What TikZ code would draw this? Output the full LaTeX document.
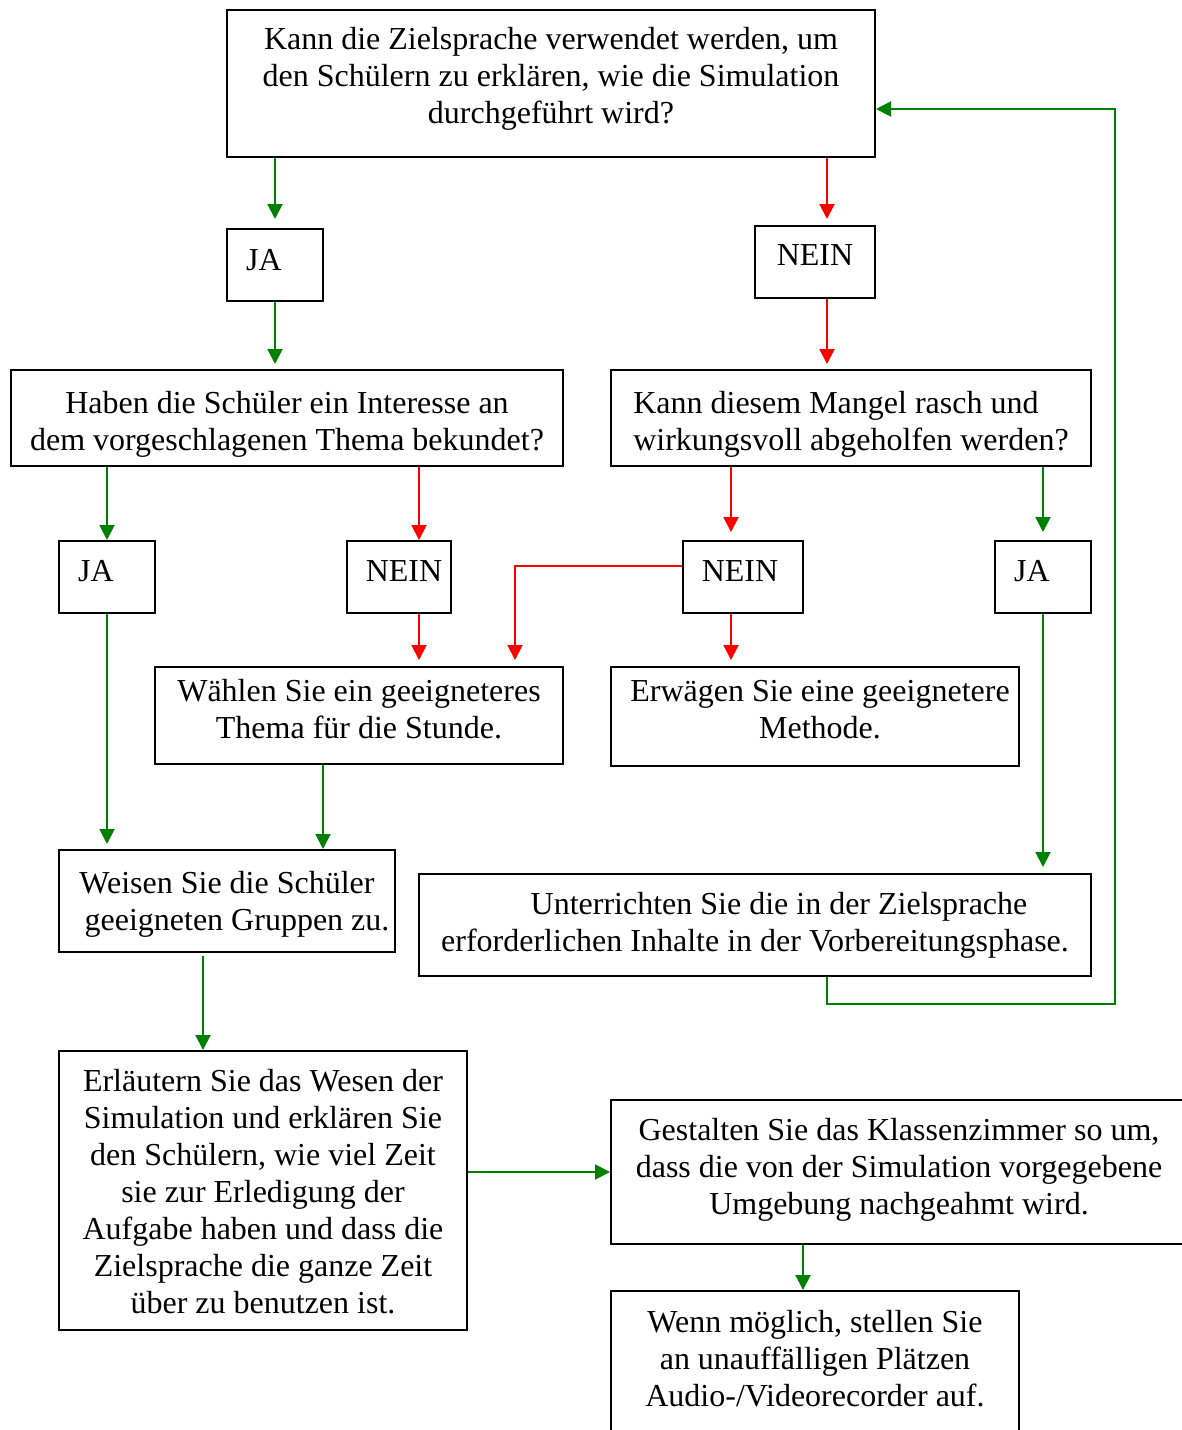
\documentclass[tikz,border=0pt]{standalone}
\usepackage{fontspec}
\setmainfont{Liberation Serif}
\usetikzlibrary{arrows.meta,calc}
\definecolor{cgreen}{RGB}{0,128,0}
\definecolor{cred}{RGB}{255,0,0}
\begin{document}
\begin{tikzpicture}[x=1pt,y=-1pt,
  box/.style={draw=black, line width=2pt, inner sep=0pt},
  tx/.style={inner sep=0pt, align=center, font=\fontsize{32}{37}\selectfont},
  garrow/.style={draw=cgreen, line width=2pt, -{Triangle[width=15pt,length=15pt]}},
  rarrow/.style={draw=cred, line width=2pt, -{Triangle[width=15pt,length=15pt]}}]
\useasboundingbox (0,0) rectangle (1182,1430);
\clip (0,0) rectangle (1182,1430);
% boxes
\node[box, minimum width=648pt, minimum height=147pt,
  label={[tx,yshift=5pt]center:{Kann die Zielsprache verwendet werden, um\\den Schülern zu erklären, wie die Simulation\\durchgeführt wird?}}] (top) at (551,83.5) {};
\node[box, minimum width=96pt, minimum height=72pt,
  label={[tx,yshift=5pt]center:{JA\hspace*{22pt}}}] (ja1) at (275,265) {};
\node[box, minimum width=120pt, minimum height=72pt,
  label={[tx,yshift=7pt]center:{NEIN}}] (nein1) at (815,262) {};
\node[box, minimum width=552pt, minimum height=96pt,
  label={[tx,yshift=-6pt]center:{Haben die Schüler ein Interesse an\\dem vorgeschlagenen Thema bekundet?}}] (haben) at (287,418) {};
\node[box, minimum width=480pt, minimum height=96pt,
  label={[tx,align=left,yshift=-6pt]center:{Kann diesem Mangel rasch und\\wirkungsvoll abgeholfen werden?}}] (kann) at (851,418) {};
\node[box, minimum width=96pt, minimum height=72pt,
  label={[tx,yshift=6pt]center:{JA\hspace*{22pt}}}] (ja2) at (107,577) {};
\node[box, minimum width=104pt, minimum height=72pt,
  label={[tx,yshift=6pt]center:{\hspace*{10pt}NEIN}}] (nein2) at (399,577) {};
\node[box, minimum width=120pt, minimum height=72pt,
  label={[tx,yshift=6pt]center:{NEIN\hspace*{6pt}}}] (nein3) at (743,577) {};
\node[box, minimum width=96pt, minimum height=72pt,
  label={[tx,yshift=6pt]center:{JA\hspace*{22pt}}}] (ja3) at (1043,577) {};
\node[box, minimum width=408pt, minimum height=97pt,
  label={[tx,yshift=6pt]center:{Wählen Sie ein geeigneteres\\Thema für die Stunde.}}] (waehlen) at (359,715.5) {};
\node[box, minimum width=408pt, minimum height=99pt,
  label={[tx,yshift=7pt]center:{\hspace*{10pt}Erwägen Sie eine geeignetere\\\hspace*{10pt}Methode.}}] (erwaegen) at (815,716.5) {};
\node[box, minimum width=336pt, minimum height=102pt,
  label={[tx,yshift=-3pt]center:{Weisen Sie die Schüler\\\hspace*{20pt}geeigneten Gruppen zu.}}] (weisen) at (227,901) {};
\node[box, minimum width=672pt, minimum height=102pt,
  label={[tx]center:{\hspace*{48pt}Unterrichten Sie die in der Zielsprache\\erforderlichen Inhalte in der Vorbereitungsphase.}}] (unter) at (755,925) {};
\node[box, minimum width=408pt, minimum height=279pt,
  label={[tx,yshift=-1pt]center:{Erläutern Sie das Wesen der\\Simulation und erklären Sie\\den Schülern, wie viel Zeit\\sie zur Erledigung der\\Aufgabe haben und dass die\\Zielsprache die ganze Zeit\\über zu benutzen ist.}}] (erl) at (263,1190.5) {};
\node[box, minimum width=576pt, minimum height=144pt,
  label={[tx,yshift=2pt]center:{Gestalten Sie das Klassenzimmer so um,\\dass die von der Simulation vorgegebene\\Umgebung nachgeahmt wird.}}] (gest) at (899,1172) {};
\node[box, minimum width=408pt, minimum height=147pt,
  label={[tx,yshift=6pt]center:{Wenn möglich, stellen Sie\\an unauffälligen Plätzen\\Audio-/Videorecorder auf.}}] (wenn) at (815,1364.5) {};
% connectors
\draw[garrow, shorten >=9pt] (top.south -| ja1.north) -- (ja1.north);
\draw[garrow, shorten >=5pt] (ja1.south) -- (ja1.south |- haben.north);
\draw[rarrow, shorten >=6pt] ([xshift=12pt]top.south -| nein1.north) -- ([xshift=12pt]nein1.north);
\draw[rarrow, shorten >=5pt] ([xshift=12pt]nein1.south) -- ([xshift=12pt]nein1.south |- kann.north);
\draw[garrow] (haben.south -| ja2.north) -- (ja2.north);
\draw[rarrow] ([xshift=20pt]haben.south -| nein2.north) -- ([xshift=20pt]nein2.north);
\draw[rarrow, shorten >=8pt] ([xshift=-12pt]kann.south -| nein3.north) -- ([xshift=-12pt]nein3.north);
\draw[garrow, shorten >=8pt] (kann.south -| ja3.north) -- (ja3.north);
\draw[rarrow, shorten >=6pt] ([xshift=20pt]nein2.south) -- ([xshift=20pt]nein2.south |- waehlen.north);
\draw[rarrow, shorten >=6pt] ([yshift=11pt]nein3.west) -| ([xshift=156pt]waehlen.north);
\draw[rarrow, shorten >=6pt] ([xshift=-12pt]nein3.south) -- ([xshift=-12pt]nein3.south |- erwaegen.north);
\draw[garrow, shorten >=5pt] (ja2.south) -- (ja2.south |- weisen.north);
\draw[garrow] ([xshift=-36pt]waehlen.south) -- ([xshift=-36pt]waehlen.south |- weisen.north);
\draw[garrow, shorten >=6pt] (ja3.south) -- (ja3.south |- unter.north);
\draw[garrow] ([xshift=72pt]unter.south) -- ++(0,27) -- ++(288,0) |- ([yshift=-25.5pt]top.east);
\draw[garrow] ([xshift=-24pt,yshift=-3pt]weisen.south) -- ([xshift=-24pt]weisen.south |- erl.north);
\draw[garrow] (erl.east |- gest.west) -- (gest.west);
\draw[garrow] ([xshift=-12pt]gest.south -| wenn.north) -- ([xshift=-12pt]wenn.north);
\end{tikzpicture}
\end{document}
